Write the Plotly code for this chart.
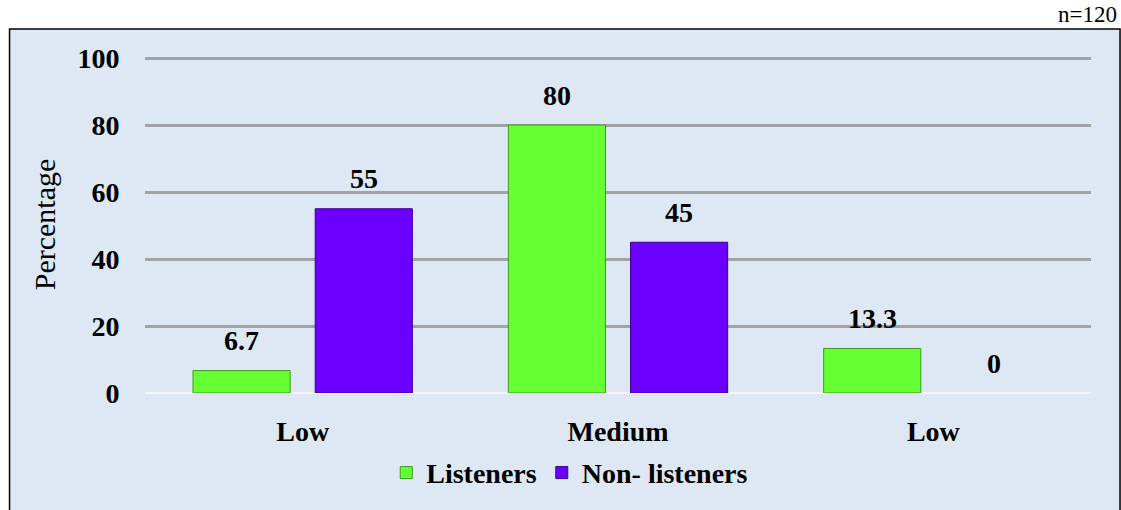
import plotly.graph_objects as go

# Level of each group (the first and last both read "Low")
categories = ["Low", "Medium", "Low"]
listeners = [6.7, 80, 13.3]
non_listeners = [55, 45, 0]
y_ticks = [0, 20, 40, 60, 80, 100]

x_pos = list(range(len(categories)))
serif = "Liberation Serif"


def outline_widths(values):
    # no outline on empty bars so they do not leave a stray line on the axis
    return [1 if v > 0 else 0 for v in values]


fig = go.Figure()
fig.add_trace(go.Bar(
    x=x_pos, y=listeners, name="Listeners",
    marker=dict(color="#66ff33", line=dict(color="#3c9a1c", width=outline_widths(listeners))),
))
fig.add_trace(go.Bar(
    x=x_pos, y=non_listeners, name="Non- listeners",
    marker=dict(color="#6a00ff", line=dict(color="#3a0090", width=outline_widths(non_listeners))),
))

# Value labels above each bar
offsets = [-0.1937, 0.1937]
for series, dx in zip([listeners, non_listeners], offsets):
    for xi, v in zip(x_pos, series):
        fig.add_annotation(
            x=xi + dx, y=v, text=f"{v:g}", showarrow=False,
            yanchor="middle", yshift=30,
            font=dict(family=serif, size=28, color="black", weight="bold"),
        )

# Framed light-blue panel behind the chart
fig.add_shape(
    type="rect", xref="paper", yref="paper",
    x0=-0.1432, x1=1.0307, y0=-0.36, y1=1.080,
    fillcolor="#dde8f4", line=dict(color="black", width=1.5), layer="below",
)

fig.add_annotation(
    xref="paper", yref="paper", x=1.030, y=1.124, xanchor="right", yanchor="middle",
    text="n=120", showarrow=False, font=dict(family=serif, size=23, color="black"),
)

fig.update_layout(
    width=1121, height=510,
    margin=dict(l=145, r=30, t=56, b=115),
    paper_bgcolor="white",
    plot_bgcolor="rgba(0,0,0,0)",
    barmode="group", bargap=0.225, bargroupgap=0.205,
    showlegend=True,
    legend=dict(
        orientation="h", x=0.449, xanchor="center", y=-0.237, yanchor="middle",
        font=dict(family=serif, size=28, color="black", weight="bold"),
        bgcolor="rgba(0,0,0,0)", itemwidth=30,
    ),
    font=dict(family=serif, color="black"),
)

fig.update_xaxes(
    tickvals=x_pos, ticktext=categories,
    range=[-0.5, 2.5], showgrid=False, zeroline=False, showline=False,
    ticks="outside", ticklen=13, tickcolor="rgba(0,0,0,0)",
    tickfont=dict(family=serif, size=28, color="black", weight="bold"),
)
fig.update_yaxes(
    range=[0, 100.6], tickvals=y_ticks,
    showgrid=True, gridcolor="#a3a3a3", gridwidth=3,
    zeroline=True, zerolinecolor="#f5f5f5", zerolinewidth=2,
    ticks="outside", ticklen=19, tickcolor="rgba(0,0,0,0)",
    tickfont=dict(family=serif, size=28, color="black", weight="bold"),
    title=dict(text="Percentage", font=dict(family=serif, size=30, color="black"), standoff=12),
)

fig.write_html("out.html")
